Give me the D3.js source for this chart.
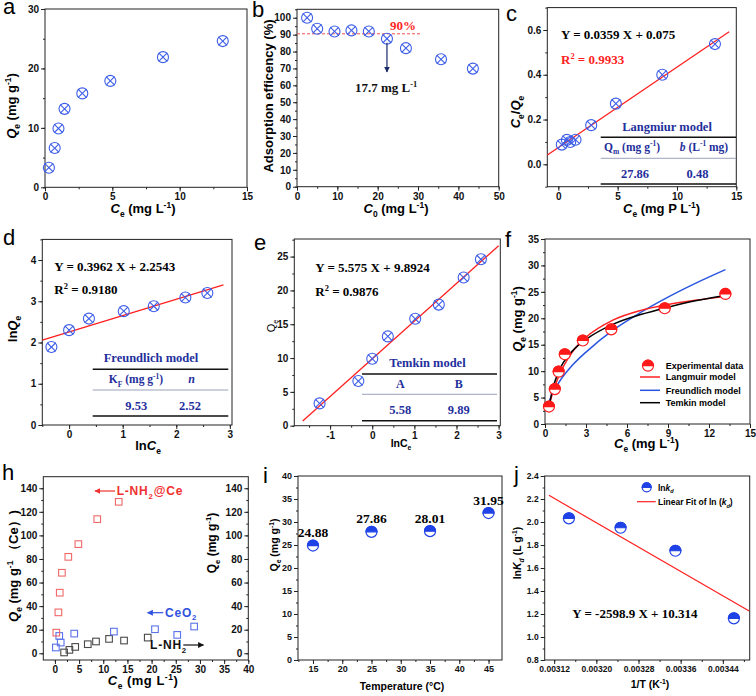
<!DOCTYPE html>
<html><head><meta charset="utf-8">
<script src="https://cdn.jsdelivr.net/npm/d3@7"></script>
<style>
body{margin:0;background:#fff;}
svg{display:block;}
</style></head><body>
<svg id="chart" width="756" height="696"></svg>
<script>
// ---------------- DATA ----------------
// (a) isotherm
const ceA = [0.29, 0.72, 1.0, 1.45, 2.77, 4.85, 8.76, 13.2];
const qeA = [3.3, 6.6, 9.9, 13.2, 15.8, 17.9, 21.9, 24.6];
const xTicksA = [0, 5, 10, 15];
const yTicksA = [0, 10, 20, 30];
// (b) efficiency
const c0B = [2.5, 5.0, 9.3, 13.5, 17.8, 22.3, 27.0, 35.7, 43.6];
const effB = [100, 93.5, 91.9, 92.5, 91.9, 87.6, 82.0, 75.4, 69.9];
const xTicksB = [0, 10, 20, 30, 40, 50];
const yTicksB = [0, 10, 20, 30, 40, 50, 60, 70, 80, 90, 100];
const refLineB = [[0, 90.5], [31, 90.5]];
// (c) Langmuir linear
const ceQeC = [0.088, 0.109, 0.100, 0.110, 0.175, 0.271, 0.400, 0.537];
const fitC = [[-1, 0.039], [14.4, 0.592]];
const xTicksC = [0, 5, 10, 15];
const yTicksC = [0.0, 0.2, 0.4, 0.6];
// (d) Freundlich linear
const lnCeD = [-0.33, 0, 0.37, 1.02, 1.58, 2.17, 2.58];
const lnQeD = [1.89, 2.30, 2.58, 2.76, 2.88, 3.09, 3.20];
const fitD = [[-0.5, 2.056], [2.88, 3.395]];
const xTicksD = [0, 1, 2, 3];
const yTicksD = [0, 1, 2, 3, 4];
// (e) Temkin linear
const lnCeE = [-1.25, -0.33, 0, 0.37, 1.02, 1.58, 2.17, 2.58];
const qeE = [3.3, 6.6, 9.9, 13.2, 15.8, 17.9, 21.9, 24.6];
const fitE = [[-1.65, 0.69], [3.0, 26.6]];
const xTicksE = [-1, 0, 1, 2, 3];
const yTicksE = [0, 5, 10, 15, 20, 25];
// (f) model curves
const curveCf = [0.3, 0.5, 1, 2, 3, 5, 7, 9, 11, 13.2];
const langQf = [3.5, 5.4, 9.0, 13.6, 16.4, 19.7, 21.5, 22.6, 23.4, 24.1];
const freuQf = [4.2, 5.5, 7.8, 11.1, 13.6, 17.8, 21.1, 24.0, 26.6, 29.2];
const temkQf = [3.2, 6.0, 9.9, 13.8, 16.0, 18.9, 20.7, 22.1, 23.3, 24.3];
const xTicksF = [0, 3, 6, 9, 12, 15];
const yTicksF = [0, 5, 10, 15, 20, 25, 30, 35];
const legendF = ["Experimental data", "Langmuir model", "Freundlich model", "Temkin model"];
// (h) comparison
const hRedX = [0.29, 0.72, 1.0, 1.45, 2.77, 4.85, 8.76, 13.2];
const hRedY = [17.5, 34.7, 51.4, 68.3, 81.8, 92.6, 113.8, 128.5];
const hBlueX = [0.2, 0.9, 1.2, 4.0, 12.2, 20.7, 25.3, 28.8];
const hBlueY = [4.9, 14.7, 9.1, 16.7, 18.4, 20.4, 15.6, 22.7];
const hGrayX = [1.9, 3.0, 4.2, 6.8, 8.5, 11.2, 14.3, 19.2];
const hGrayY = [0.7, 2.9, 5.4, 7.7, 10.0, 12.2, 10.8, 13.3];
const xTicksH = [0, 5, 10, 15, 20, 25, 30, 35, 40];
const yTicksH = [0, 20, 40, 60, 80, 100, 120, 140];
// (i) temperature
const tempI = [15, 25, 35, 45];
const qmI = [24.88, 27.86, 28.01, 31.95];
const xTicksI = [15, 20, 25, 30, 35, 40, 45];
const yTicksI = [0, 5, 10, 15, 20, 25, 30, 35, 40];
// (j) van't Hoff
const invTJ = [0.003148, 0.003246, 0.003350, 0.003461];
const lnKdJ = [2.032, 1.95, 1.75, 1.162];
const fitJ = [[0.00311, 2.232], [0.00349, 1.226]];
const xTicksJ = [0.00312, 0.00320, 0.00328, 0.00336, 0.00344];
const yTicksJ = [0.8, 1.0, 1.2, 1.4, 1.6, 1.8, 2.0, 2.2, 2.4];

// ---------------- HELPERS ----------------
const svg = d3.select('#chart');
const SANS = '"Liberation Sans", Arial, sans-serif';
const SERIF = '"Liberation Serif", "Times New Roman", serif';
const MB = '#3d5ee8';      // marker blue
const NAVY = '#1f2f9c';    // table blue
const RED = '#ff1f1f';

function rich(sel, x, y, parts, o = {}) {
  const fs = o.size || 13;
  const t = sel.append('text').attr('x', x).attr('y', y)
    .attr('font-family', o.family || SANS).attr('font-size', fs)
    .attr('font-weight', o.weight || 'bold').attr('fill', o.fill || '#000')
    .attr('text-anchor', o.anchor || 'start');
  if (o.rotate) t.attr('transform', `rotate(-90,${x},${y})`);
  if (o.ls) t.attr('letter-spacing', o.ls);
  let shift = 0;
  parts.forEach(p => {
    const [txt, st] = Array.isArray(p) ? p : [p, ''];
    const sp = t.append('tspan').text(txt);
    let target = 0;
    if (st.includes('sub')) { target = fs * 0.3; sp.attr('font-size', fs * 0.65); }
    if (st.includes('sup')) { target = -fs * 0.4; sp.attr('font-size', fs * 0.65); }
    if (st.includes('it')) sp.attr('font-style', 'italic');
    if (target !== shift) { sp.attr('dy', target - shift); shift = target; }
  });
  return t;
}

function minorVals(ticks, dom) {
  const step = (ticks[1] - ticks[0]) / 2;
  const out = [];
  const lo = Math.min(dom[0], dom[1]), hi = Math.max(dom[0], dom[1]);
  for (let v = ticks[0] - step * 20; v <= hi + 1e-12; v += step) {
    if (v >= lo - 1e-12) out.push(+v.toPrecision(10));
  }
  return out;
}

function styleAxis(s, fs) {
  s.select('.domain').remove();
  s.selectAll('line').attr('stroke', '#222').attr('stroke-width', 1);
  s.selectAll('text').attr('font-family', SANS).attr('font-weight', 'bold')
    .attr('font-size', fs).attr('fill', '#111');
}

function panel(c) {
  const x = d3.scaleLinear().domain(c.xd).range([c.l, c.r]);
  const y = d3.scaleLinear().domain(c.yd).range([c.b, c.t]);
  const g = svg.append('g');
  const fs = c.fs || 10;
  const fx = c.fx || (v => String(v));
  const fy = c.fy || (v => String(v));
  g.append('g').attr('transform', `translate(0,${c.b})`)
    .call(d3.axisBottom(x).tickValues(minorVals(c.xt, c.xd)).tickSize(2).tickFormat(''))
    .call(s => styleAxis(s, fs));
  g.append('g').attr('transform', `translate(${c.l},0)`)
    .call(d3.axisLeft(y).tickValues(minorVals(c.yt, c.yd)).tickSize(2).tickFormat(''))
    .call(s => styleAxis(s, fs));
  g.append('g').attr('transform', `translate(0,${c.b})`)
    .call(d3.axisBottom(x).tickValues(c.xt).tickSize(4).tickPadding(2).tickFormat(fx))
    .call(s => styleAxis(s, fs));
  g.append('g').attr('transform', `translate(${c.l},0)`)
    .call(d3.axisLeft(y).tickValues(c.yt).tickSize(4).tickPadding(2).tickFormat(fy))
    .call(s => styleAxis(s, fs));
  g.append('rect').attr('x', c.l).attr('y', c.t).attr('width', c.r - c.l)
    .attr('height', c.b - c.t).attr('fill', 'none').attr('stroke', '#222').attr('stroke-width', 1);
  const clipId = 'clip' + Math.round(c.l) + '_' + Math.round(c.t);
  svg.append('clipPath').attr('id', clipId).append('rect')
    .attr('x', c.l).attr('y', c.t).attr('width', c.r - c.l).attr('height', c.b - c.t);
  const inner = g.append('g').attr('clip-path', `url(#${clipId})`);
  return { x, y, g, inner };
}

function xMarkers(g, xs, ys, P) {
  const r = 5.5, k = r * 0.78;
  xs.forEach((xv, i) => {
    const cx = P.x(xv), cy = P.y(ys[i]);
    const m = g.append('g').attr('transform', `translate(${cx},${cy})`)
      .attr('stroke', MB).attr('stroke-width', 1.1).attr('fill', 'none');
    m.append('circle').attr('r', r);
    m.append('line').attr('x1', -k).attr('y1', -k).attr('x2', k).attr('y2', k);
    m.append('line').attr('x1', -k).attr('y1', k).attr('x2', k).attr('y2', -k);
  });
}

function halfCircle(g, cx, cy, r, col) {
  const m = g.append('g').attr('transform', `translate(${cx},${cy})`);
  m.append('circle').attr('r', r).attr('fill', '#fff').attr('stroke', col).attr('stroke-width', 1.2);
  m.append('path').attr('d', `M${-r},0 A${r},${r} 0 0 1 ${r},0 Z`).attr('fill', col)
    .attr('stroke', col).attr('stroke-width', 1.2);
}

function fitLine(g, pts, P, col, w) {
  g.append('path').attr('d', d3.line().x(d => P.x(d[0])).y(d => P.y(d[1]))(pts))
    .attr('fill', 'none').attr('stroke', col).attr('stroke-width', w || 1.3);
}

function letter(t, x, y) {
  svg.append('text').attr('x', x).attr('y', y).text(t).attr('font-family', SANS)
    .attr('font-size', 22).attr('fill', '#000');
}

// arrow marker defs
const defs = svg.append('defs');
function arrowDef(id, col) {
  defs.append('marker').attr('id', id).attr('viewBox', '0 0 10 10').attr('refX', 9).attr('refY', 5)
    .attr('markerWidth', 5).attr('markerHeight', 5).attr('orient', 'auto')
    .append('path').attr('d', 'M0,0 L10,5 L0,10 Z').attr('fill', col);
}
arrowDef('arNavy', '#1a2a66');
arrowDef('arRed', '#f03030');
arrowDef('arBlue', '#3050e0');
arrowDef('arBlack', '#111');

// ---------------- (a) ----------------
{
  const P = panel({ l: 45, r: 247, t: 9, b: 187.3, xd: [0, 15], yd: [0, 30], xt: xTicksA, yt: yTicksA });
  xMarkers(P.g, ceA, qeA, P);
  rich(svg, 143, 213, [['C', 'it'], ['e', 'sub'], ' (mg L', ['-1', 'sup'], ')'], { anchor: 'middle', size: 13 });
  rich(svg, 16, 106, [['Q', 'it'], ['e', 'sub'], ' (mg g', ['-1', 'sup'], ')'], { anchor: 'middle', size: 13, rotate: true });
  letter('a', 3, 14);
}
// ---------------- (b) ----------------
{
  const P = panel({ l: 297, r: 498.7, t: 9.3, b: 186.7, xd: [0, 50], yd: [0, 105], xt: xTicksB, yt: yTicksB });
  P.g.append('path').attr('d', d3.line().x(d => P.x(d[0])).y(d => P.y(d[1]))(refLineB))
    .attr('stroke', '#f05050').attr('stroke-width', 1).attr('stroke-dasharray', '3,2').attr('fill', 'none');
  xMarkers(P.g, c0B, effB, P);
  P.g.append('line').attr('x1', P.x(c0B[5])).attr('x2', P.x(c0B[5]))
    .attr('y1', P.y(effB[5]) + 4).attr('y2', 72).attr('stroke', '#1a2a66').attr('stroke-width', 1.2)
    .attr('marker-end', 'url(#arNavy)');
  rich(svg, 390, 30, ['90%'], { family: SERIF, size: 13, fill: RED });
  rich(svg, 355, 92, ['17.7 mg L', ['-1', 'sup']], { family: SERIF, size: 13, fill: '#111' });
  rich(svg, 396, 213, [['C', 'it'], ['0', 'sub'], ' (mg L', ['-1', 'sup'], ')'], { anchor: 'middle', size: 13 });
  rich(svg, 273, 96, ['Adsorption efficency (%)'], { anchor: 'middle', size: 13, rotate: true });
  letter('b', 252, 17);
}
// ---------------- (c) ----------------
{
  const P = panel({ l: 547.3, r: 736.3, t: 7.6, b: 186.7, xd: [-0.93, 15], yd: [-0.1, 0.7], xt: xTicksC, yt: yTicksC,
    fy: v => v.toFixed(1) });
  fitLine(P.inner, fitC, P, RED, 1.3);
  xMarkers(P.g, ceA, ceQeC, P);
  rich(svg, 561, 39, ['Y = 0.0359 X + 0.075'], { family: SERIF, size: 13 });
  rich(svg, 561, 64, ['R', ['2', 'sup'], ' = 0.9933'], { family: SERIF, size: 13, fill: RED });
  rich(svg, 667, 131, ['Langmiur model'], { family: SERIF, size: 12.5, fill: NAVY, anchor: 'middle' });
  svg.append('line').attr('x1', 600.7).attr('x2', 736).attr('y1', 137.3).attr('y2', 137.3).attr('stroke', '#111').attr('stroke-width', 1.5);
  rich(svg, 632, 150.7, ['Q', ['m', 'sub'], ' (mg g', ['-1', 'sup'], ')'], { family: SERIF, size: 11.5, fill: NAVY, anchor: 'middle' });
  rich(svg, 704, 150.7, [['b', 'it'], ' (L', ['-1', 'sup'], ' mg)'], { family: SERIF, size: 11.5, fill: NAVY, anchor: 'middle' });
  svg.append('line').attr('x1', 600.7).attr('x2', 736).attr('y1', 158.3).attr('y2', 158.3).attr('stroke', '#9aa2bc').attr('stroke-width', 1);
  rich(svg, 635, 178.3, ['27.86'], { family: SERIF, size: 12.5, fill: NAVY, anchor: 'middle' });
  rich(svg, 697.5, 178.3, ['0.48'], { family: SERIF, size: 12.5, fill: NAVY, anchor: 'middle' });
  svg.append('line').attr('x1', 600.7).attr('x2', 736).attr('y1', 184).attr('y2', 184).attr('stroke', '#111').attr('stroke-width', 1.5);
  rich(svg, 661.5, 213, [['C', 'it'], ['e', 'sub'], ' (mg P L', ['-1', 'sup'], ')'], { anchor: 'middle', size: 13 });
  rich(svg, 520, 112, [['C', 'it'], ['e', 'sub'], '/', ['Q', 'it'], ['e', 'sub']], { anchor: 'middle', size: 13, rotate: true });
  letter('c', 506, 21);
}
// ---------------- (d) ----------------
{
  const P = panel({ l: 42.3, r: 232, t: 239.4, b: 425, xd: [-0.5, 3.04], yd: [0, 4.5], xt: xTicksD, yt: yTicksD });
  fitLine(P.inner, fitD, P, RED, 1.3);
  xMarkers(P.g, lnCeD, lnQeD, P);
  rich(svg, 54.3, 270.7, ['Y = 0.3962 X + 2.2543'], { family: SERIF, size: 13 });
  rich(svg, 54.3, 294.3, ['R', ['2', 'sup'], ' = 0.9180'], { family: SERIF, size: 13 });
  rich(svg, 151, 361.7, ['Freundlich model'], { family: SERIF, size: 12.5, fill: NAVY, anchor: 'middle' });
  svg.append('line').attr('x1', 92.7).attr('x2', 228.3).attr('y1', 369.3).attr('y2', 369.3).attr('stroke', '#111').attr('stroke-width', 1.5);
  rich(svg, 136, 383.3, ['K', ['F', 'sub'], ' (mg g', ['-1', 'sup'], ')'], { family: SERIF, size: 11.5, fill: NAVY, anchor: 'middle' });
  rich(svg, 191.7, 383.3, [['n', 'it']], { family: SERIF, size: 12, fill: NAVY, anchor: 'middle' });
  svg.append('line').attr('x1', 92.7).attr('x2', 228.3).attr('y1', 390).attr('y2', 390).attr('stroke', '#9aa2bc').attr('stroke-width', 1);
  rich(svg, 136.2, 410, ['9.53'], { family: SERIF, size: 12.5, fill: NAVY, anchor: 'middle' });
  rich(svg, 190, 410, ['2.52'], { family: SERIF, size: 12.5, fill: NAVY, anchor: 'middle' });
  svg.append('line').attr('x1', 92.7).attr('x2', 228.3).attr('y1', 416).attr('y2', 416).attr('stroke', '#111').attr('stroke-width', 1.5);
  rich(svg, 148, 450, ['ln', ['C', 'it'], ['e', 'sub']], { anchor: 'middle', size: 13 });
  rich(svg, 17, 329, ['ln', ['Q', 'it'], ['e', 'sub']], { anchor: 'middle', size: 13, rotate: true });
  letter('d', 3, 245);
}
// ---------------- (e) ----------------
{
  const P = panel({ l: 294.3, r: 500.3, t: 239, b: 425.7, xd: [-1.85, 3.04], yd: [0, 27.6], xt: xTicksE, yt: yTicksE });
  fitLine(P.inner, fitE, P, RED, 1.3);
  xMarkers(P.g, lnCeE, qeE, P);
  rich(svg, 315.3, 271.7, ['Y = 5.575 X + 9.8924'], { family: SERIF, size: 13 });
  rich(svg, 315.3, 295.7, ['R', ['2', 'sup'], ' = 0.9876'], { family: SERIF, size: 13 });
  rich(svg, 427.5, 367.3, ['Temkin model'], { family: SERIF, size: 12.5, fill: NAVY, anchor: 'middle' });
  svg.append('line').attr('x1', 362).attr('x2', 497).attr('y1', 374).attr('y2', 374).attr('stroke', '#111').attr('stroke-width', 1.5);
  rich(svg, 400.3, 387.7, ['A'], { family: SERIF, size: 12, fill: NAVY, anchor: 'middle' });
  rich(svg, 458.7, 387.7, ['B'], { family: SERIF, size: 12, fill: NAVY, anchor: 'middle' });
  svg.append('line').attr('x1', 362).attr('x2', 497).attr('y1', 394.3).attr('y2', 394.3).attr('stroke', '#9aa2bc').attr('stroke-width', 1);
  rich(svg, 400.3, 414.3, ['5.58'], { family: SERIF, size: 12.5, fill: NAVY, anchor: 'middle' });
  rich(svg, 458.7, 414.3, ['9.89'], { family: SERIF, size: 12.5, fill: NAVY, anchor: 'middle' });
  svg.append('line').attr('x1', 362).attr('x2', 497).attr('y1', 420.7).attr('y2', 420.7).attr('stroke', '#111').attr('stroke-width', 1.5);
  rich(svg, 401, 446.7, ['lnC', ['e', 'sub']], { anchor: 'middle', size: 10.5 });
  rich(svg, 275, 326, ['Q', ['e', 'sub']], { anchor: 'middle', size: 11, rotate: true, weight: 'normal' });
  letter('e', 254, 250);
}
// ---------------- (f) ----------------
{
  const P = panel({ l: 545, r: 750, t: 239, b: 424, xd: [0, 15], yd: [0, 35], xt: xTicksF, yt: yTicksF });
  const ln = (ys) => d3.line().curve(d3.curveMonotoneX).x((d, i) => P.x(curveCf[i])).y(d => P.y(d))(ys);
  P.inner.append('path').attr('d', ln(freuQf)).attr('fill', 'none').attr('stroke', '#2a55e0').attr('stroke-width', 1.5);
  P.inner.append('path').attr('d', ln(langQf)).attr('fill', 'none').attr('stroke', '#ff2020').attr('stroke-width', 1.5);
  P.inner.append('path').attr('d', ln(temkQf)).attr('fill', 'none').attr('stroke', '#000').attr('stroke-width', 1.5);
  ceA.forEach((c, i) => halfCircle(P.g, P.x(c), P.y(qeA[i]), 5.5, '#ff1a1a'));
  // legend
  halfCircle(svg, 648, 365.7, 5.5, '#ff1a1a');
  const lc = ['#ff2020', '#2a55e0', '#000'];
  [377, 390.3, 402.7].forEach((yy, i) => {
    svg.append('line').attr('x1', 640).attr('x2', 660).attr('y1', yy).attr('y2', yy).attr('stroke', lc[i]).attr('stroke-width', 1.5);
  });
  [365.7, 377, 390.3, 402.7].forEach((yy, i) => rich(svg, 665.7, yy + 3.3, [legendF[i]], { size: 9 }));
  rich(svg, 646.5, 448, [['C', 'it'], ['e', 'sub'], ' (mg L', ['-1', 'sup'], ')'], { anchor: 'middle', size: 13 });
  rich(svg, 522, 319, [['Q', 'it'], ['e', 'sub'], ' (mg g', ['-1', 'sup'], ')'], { anchor: 'middle', size: 13, rotate: true });
  letter('f', 505, 247);
}
// ---------------- (h) ----------------
{
  const P = panel({ l: 43.3, r: 248.3, t: 476.7, b: 660, xd: [-2.4, 40], yd: [-5.7, 149.8], xt: xTicksH, yt: yTicksH });
  // right axis (labels inside)
  P.g.append('g').attr('transform', `translate(${248.3},0)`)
    .call(d3.axisLeft(P.y).tickValues(minorVals(yTicksH, [-5.7, 149.8])).tickSize(2).tickFormat(''))
    .call(s => styleAxis(s, 10));
  P.g.append('g').attr('transform', `translate(${248.3},0)`)
    .call(d3.axisLeft(P.y).tickValues(yTicksH).tickSize(4).tickPadding(2).tickFormat(v => String(v)))
    .call(s => styleAxis(s, 10));
  const sq = (xs, ys, col) => xs.forEach((xv, i) => P.g.append('rect')
    .attr('x', P.x(xv) - 3.3).attr('y', P.y(ys[i]) - 3.3).attr('width', 6.6).attr('height', 6.6)
    .attr('fill', 'none').attr('stroke', col).attr('stroke-width', 1.1));
  sq(hGrayX, hGrayY, '#4a4a4a');
  sq(hBlueX, hBlueY, '#5a72ea');
  sq(hRedX, hRedY, '#f06868');
  svg.append('line').attr('x1', 115).attr('x2', 95).attr('y1', 491).attr('y2', 491).attr('stroke', '#f03030').attr('stroke-width', 1.2).attr('marker-end', 'url(#arRed)');
  rich(svg, 116.7, 495, ['L-NH', ['2', 'sub'], '@Ce'], { size: 12, fill: '#f03030', ls: 0.8 });
  svg.append('line').attr('x1', 163.3).attr('x2', 147.5).attr('y1', 612.7).attr('y2', 612.7).attr('stroke', '#3050e0').attr('stroke-width', 1.2).attr('marker-end', 'url(#arBlue)');
  rich(svg, 165, 616.7, ['CeO', ['2', 'sub']], { size: 12, fill: '#3050e0', ls: 0.8 });
  rich(svg, 150, 649.3, ['L-NH', ['2', 'sub']], { size: 12, fill: '#111', ls: 0.8 });
  svg.append('line').attr('x1', 183.3).attr('x2', 203.5).attr('y1', 645).attr('y2', 645).attr('stroke', '#111').attr('stroke-width', 1.2).attr('marker-end', 'url(#arBlack)');
  rich(svg, 143, 685, [['C', 'it'], ['e', 'sub'], ' (mg L', ['-1', 'sup'], ')'], { anchor: 'middle', size: 13, ls: 0.5 });
  rich(svg, 18, 566, [['Q', 'it'], ['e', 'sub'], ' (mg g', ['-1', 'sup'], ' \uFF08Ce\uFF09)'], { anchor: 'middle', size: 13, rotate: true });
  rich(svg, 216, 543, ['Q', ['e', 'sub'], ' (mg g', ['-1', 'sup'], ')'], { anchor: 'middle', size: 12, rotate: true });
  letter('h', 2, 480);
}
// ---------------- (i) ----------------
{
  const P = panel({ l: 298, r: 502, t: 476, b: 660, xd: [12.44, 47.3], yd: [0, 40], xt: xTicksI, yt: yTicksI, fs: 9 });
  tempI.forEach((t, i) => {
    halfCircle(P.g, P.x(t), P.y(qmI[i]), 5.5, '#1f42e6');
    rich(svg, P.x(t), P.y(qmI[i]) - 8.5, [qmI[i].toFixed(2)], { family: SERIF, size: 13.5, anchor: 'middle' });
  });
  rich(svg, 402, 690, ['Temperature (\u00B0C)'], { anchor: 'middle', size: 10.5 });
  rich(svg, 278, 545, ['Q', ['e', 'sub'], ' (mg g', ['-1', 'sup'], ')'], { anchor: 'middle', size: 10.5, rotate: true });
  letter('i', 263, 483);
}
// ---------------- (j) ----------------
{
  const P = panel({ l: 544.7, r: 749.7, t: 476, b: 660, xd: [0.003102, 0.003491], yd: [0.8, 2.4], xt: xTicksJ, yt: yTicksJ,
    fs: 8.5, fx: v => v.toFixed(5), fy: v => v.toFixed(1) });
  fitLine(P.inner, fitJ, P, RED, 1.2);
  invTJ.forEach((t, i) => halfCircle(P.g, P.x(t), P.y(lnKdJ[i]), 5.5, '#1f42e6'));
  halfCircle(svg, 646.7, 487.3, 4.5, '#1f42e6');
  rich(svg, 658, 490.5, ['ln', ['k', 'it'], ['d', 'sub it']], { size: 8.5 });
  svg.append('line').attr('x1', 637).attr('x2', 655.7).attr('y1', 501.7).attr('y2', 501.7).attr('stroke', RED).attr('stroke-width', 1.2);
  rich(svg, 658, 505, ['Linear Fit of ln (', ['k', 'it'], ['d', 'sub it'], ')'], { size: 8.5 });
  rich(svg, 572.3, 618.3, ['Y = -2598.9 X + 10.314'], { family: SERIF, size: 13 });
  rich(svg, 650, 687.7, ['1/T (K', ['-1', 'sup'], ')'], { anchor: 'middle', size: 10.5 });
  rich(svg, 521, 553, ['ln', ['K', 'it'], ['d', 'sub it'], ' (L g', ['-1', 'sup'], ')'], { anchor: 'middle', size: 10.5, rotate: true });
  letter('j', 514, 482);
}
</script>
</body></html>
